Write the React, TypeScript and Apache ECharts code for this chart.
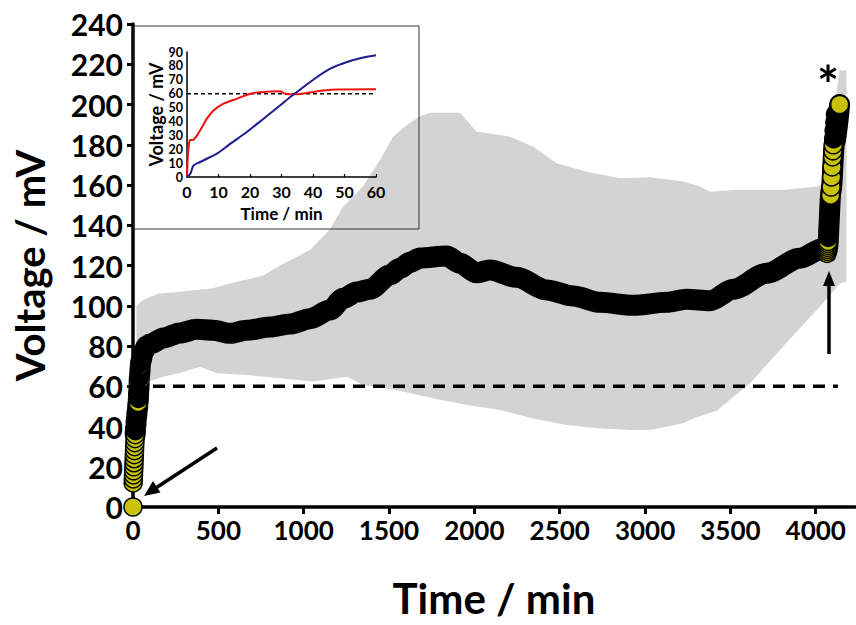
import React, { useEffect, useRef } from 'react';
import * as echarts from 'echarts';

// ---------- main chart data ----------
const xTicks = [0, 500, 1000, 1500, 2000, 2500, 3000, 3500, 4000];

// mean voltage (thick black trace): [time min, voltage mV]
const meanCurve: [number, number][] = [
  [13, 36], [16, 40], [20, 44], [25, 48], [30, 52], [34, 58], [38, 65], [45, 72],
  [60, 77], [80, 80], [100, 81], [178, 84], [275, 86.5], [373, 88.3], [470, 87.8],
  [568, 86.3], [666, 87.8], [803, 89.4], [920, 90.9], [1037, 93.6], [1154, 97.9],
  [1232, 103.7], [1310, 106.8], [1388, 108.2], [1506, 115.3], [1564, 118.6],
  [1623, 121.6], [1681, 123.7], [1838, 124.7], [1916, 121.1], [2013, 116.4],
  [2091, 117.8], [2248, 114.1], [2424, 107.8], [2580, 104.8], [2736, 101.7],
  [2931, 100.2], [3127, 101.7], [3244, 103.2], [3380, 102.5], [3517, 108.2],
  [3712, 116.1], [3907, 123.6], [4044, 128.5], [4068, 128], [4090, 157],
  [4110, 181], [4140, 200],
];

// individual markers at start and end: [time, voltage, visible yellow fill (1) or hidden (0)]
const startPoints: [number, number, number][] = [
  [0, 0, 1],
  [1, 12, 1], [2, 14, 1], [3, 16, 1], [4, 18, 1], [5, 20, 1], [6, 22, 1], [7, 24, 1],
  [8, 26, 1], [9, 28, 1], [10, 30, 1], [11, 32, 1], [12, 34, 1], [13, 36, 1],
  [14, 38, 0], [16, 41, 0], [20, 44, 0], [25, 48, 0], [30, 52, 1], [31, 54, 0], [32, 56, 0],
];
const endPoints: [number, number, number][] = [
  [4066, 126, 1], [4067, 127, 1], [4068, 128, 1], [4069, 129, 1], [4070, 130, 1],
  [4071, 131, 1], [4072, 132, 1], [4073, 134, 0], [4075, 137, 0], [4078, 142, 0],
  [4081, 147, 0], [4084, 152, 0], [4087, 155, 1], [4090, 159, 1], [4093, 164, 1],
  [4096, 169, 1], [4099, 174, 1], [4101, 177, 1], [4103, 180, 1], [4105, 183, 0],
  [4108, 187, 0], [4112, 191, 0], [4116, 195, 0], [4140, 200, 1],
];

// SD band
const sdUpper: [number, number][] = [
  [20, 100], [59, 102.9], [146, 106], [275, 107], [469, 108.7], [568, 111], [762, 115],
  [861, 120], [961, 124.4], [1037, 127.7], [1154, 138], [1230, 149.2], [1347, 159.2],
  [1447, 172.4], [1523, 184], [1605, 189.8], [1675, 193.9], [1740, 195.9], [1916, 195.9],
  [2013, 186.5], [2150, 184.8], [2209, 184], [2345, 179], [2482, 170.8], [2658, 166.6],
  [2853, 163.3], [3029, 163.8], [3224, 161.7], [3322, 159.2], [3380, 156.7], [3515, 157.5],
  [3808, 157.5], [4007, 159.2], [4054, 161], [4140, 217], [4180, 217],
];
const sdLower: [number, number][] = [
  [20, 62], [82, 62], [176, 64.7], [275, 66.6], [393, 69.7], [492, 66.4], [668, 65.6],
  [861, 64], [1054, 62.3], [1254, 64.7], [1347, 60.6], [1547, 58], [1757, 54],
  [1957, 50.7], [2150, 48.2], [2343, 44], [2542, 40.7], [2736, 39], [2929, 38.3],
  [3029, 38.3], [3128, 39.9], [3222, 41.6], [3281, 44], [3421, 48], [3614, 61.4],
  [3808, 79.6], [4007, 98], [4142, 111], [4180, 112],
];

const threshold: [number, number][] = [[0, 60], [4130, 60]];

// ---------- inset data ----------
const insetXTicks = [0, 10, 20, 30, 40, 50, 60];
const insetYTicks = [0, 10, 20, 30, 40, 50, 60, 70, 80, 90];
const insetRed: [number, number][] = [
  [0, 0], [0.85, 26.4], [2.1, 26.9], [3.2, 30], [4.8, 36], [6.3, 42], [8.5, 48],
  [11.6, 52.8], [15.9, 56.4], [20.1, 60], [23.3, 61], [29.6, 61.7], [31.2, 60],
  [33.9, 59.5], [40.2, 61.2], [45.5, 62.9], [60, 63.1],
];
const insetBlue: [number, number][] = [
  [0, 0], [1.06, 2.4], [2.1, 8.4], [4.2, 10.8], [7.4, 14.4], [9.5, 16.8], [13.8, 24],
  [19, 32.4], [24.3, 42], [29.6, 51.6], [32.8, 57.6], [37, 64.8], [41.3, 72], [45.5, 78],
  [50.8, 82.8], [56, 86], [60, 87.6],
];
const insetThreshold: [number, number][] = [[0, 60], [60, 60]];

const YELLOW = '#c9c20c';
const GRAY = '#d3d3d3';
const FONT = 'Lato, "Open Sans", sans-serif';

export default function App() {
  const ref = useRef<HTMLDivElement>(null);

  useEffect(() => {
    if (!ref.current) return;
    const chart = echarts.init(ref.current, undefined, { renderer: 'svg' });

    const markers = [...startPoints, ...endPoints].map(([t, v, f]) => ({
      value: [t, v],
      itemStyle: { color: f ? YELLOW : '#000' },
    }));

    const option: any = {
      animation: false,
      backgroundColor: '#ffffff',
      grid: [
        { left: 133, top: 24, width: 722, height: 483 },
        { left: 187, top: 52, width: 189, height: 125 },
      ],
      xAxis: [
        {
          gridIndex: 0, type: 'value', min: 0, max: 4230, interval: 500,
          axisLine: { lineStyle: { color: '#000', width: 3.5 } },
          axisTick: { length: 7, lineStyle: { color: '#000', width: 3 }, customValues: xTicks },
          axisLabel: {
            customValues: xTicks, margin: 10, formatter: (v: number) => String(v),
            fontFamily: FONT, fontSize: 26, fontWeight: 'bold', color: '#000',
          },
          splitLine: { show: false },
          name: 'Time / min', nameLocation: 'middle', nameGap: 70,
          nameTextStyle: { fontFamily: FONT, fontSize: 42, fontWeight: 'bold', color: '#000' },
        },
        {
          gridIndex: 1, type: 'value', min: 0, max: 60, interval: 10,
          axisLine: { lineStyle: { color: '#000', width: 1.5 } },
          axisTick: { inside: true, length: 3, lineStyle: { color: '#000', width: 1.2 }, customValues: insetXTicks },
          axisLabel: {
            customValues: insetXTicks, margin: 6, fontFamily: FONT, fontSize: 16,
            fontWeight: 'bold', color: '#000',
          },
          splitLine: { show: false },
          name: 'Time / min', nameLocation: 'middle', nameGap: 28,
          nameTextStyle: { fontFamily: FONT, fontSize: 17, fontWeight: 'bold', color: '#000' },
        },
      ],
      yAxis: [
        {
          gridIndex: 0, type: 'value', min: 0, max: 240, interval: 20,
          axisLine: { lineStyle: { color: '#000', width: 3.5 } },
          axisTick: { length: 6, lineStyle: { color: '#000', width: 3 } },
          axisLabel: { margin: 10, fontFamily: FONT, fontSize: 30, fontWeight: 'bold', color: '#000' },
          splitLine: { show: false },
          name: 'Voltage / mV', nameLocation: 'middle', nameGap: 83,
          nameTextStyle: { fontFamily: FONT, fontSize: 40, fontWeight: 'bold', color: '#000' },
        },
        {
          gridIndex: 1, type: 'value', min: 0, max: 90, interval: 10,
          axisLine: { lineStyle: { color: '#000', width: 1.5 } },
          axisTick: { show: false },
          axisLabel: {
            customValues: insetYTicks, margin: 4, fontFamily: FONT, fontSize: 12.5,
            lineHeight: 12, fontWeight: 'bold', color: '#000',
          },
          splitLine: { show: false },
          name: 'Voltage / mV', nameLocation: 'middle', nameGap: 22,
          nameTextStyle: { fontFamily: FONT, fontSize: 18, fontWeight: 'bold', color: '#000' },
        },
      ],
      series: [
        {
          type: 'custom', coordinateSystem: 'cartesian2d', xAxisIndex: 0, yAxisIndex: 0,
          z: -1, silent: true, clip: false,
          data: [[0, 0]],
          renderItem: (_params: any, api: any) => {
            const pts = [
              ...sdUpper.map((p) => api.coord(p)),
              ...sdLower.slice().reverse().map((p) => api.coord(p)),
            ];
            return { type: 'polygon', shape: { points: pts }, style: { fill: GRAY } };
          },
        },
        {
          type: 'line', xAxisIndex: 0, yAxisIndex: 0, data: threshold, symbol: 'none', z: 2,
          lineStyle: { color: '#000', width: 3.5, type: [12, 8] }, silent: true,
        },
        {
          type: 'line', xAxisIndex: 0, yAxisIndex: 0, data: meanCurve, symbol: 'none', z: 3,
          smooth: 0.3, smoothMonotone: 'x', clip: false,
          lineStyle: { color: '#000', width: 21, cap: 'round', join: 'round' }, silent: true,
        },
        {
          type: 'scatter', xAxisIndex: 0, yAxisIndex: 0, data: markers, z: 4, clip: false,
          symbol: 'circle', symbolSize: 18,
          itemStyle: { borderColor: '#000', borderWidth: 1.5, opacity: 1 }, silent: true,
        },
        {
          type: 'line', xAxisIndex: 1, yAxisIndex: 1, data: insetThreshold, symbol: 'none', z: 5,
          lineStyle: { color: '#000', width: 1.5, type: [4, 3] }, silent: true,
        },
        {
          type: 'line', xAxisIndex: 1, yAxisIndex: 1, data: insetRed, symbol: 'none', z: 6,
          smooth: 0.3, lineStyle: { color: '#ee1111', width: 2 }, silent: true,
        },
        {
          type: 'line', xAxisIndex: 1, yAxisIndex: 1, data: insetBlue, symbol: 'none', z: 6,
          smooth: 0.3, lineStyle: { color: '#1c1c8c', width: 2 }, silent: true,
        },
      ],
      graphic: [
        {
          type: 'rect', z: 10, silent: true,
          shape: { x: 134, y: 26, width: 285, height: 203 },
          style: { fill: 'none', stroke: '#333', lineWidth: 1 },
        },
        {
          type: 'line', z: 10, silent: true,
          shape: { x1: 217, y1: 448, x2: 155, y2: 488.5 },
          style: { stroke: '#000', lineWidth: 3.5 },
        },
        {
          type: 'polygon', z: 10, silent: true,
          shape: { points: [[144, 496], [160.5, 492.5], [153, 481]] },
          style: { fill: '#000' },
        },
        {
          type: 'line', z: 10, silent: true,
          shape: { x1: 829, y1: 354, x2: 829, y2: 282 },
          style: { stroke: '#000', lineWidth: 3.5 },
        },
        {
          type: 'polygon', z: 10, silent: true,
          shape: { points: [[829, 271], [835, 286], [823, 286]] },
          style: { fill: '#000' },
        },
        {
          type: 'text', z: 10, silent: true, x: 828, y: 84,
          style: {
            text: '*', fill: '#000', font: `bold 52px ${FONT}`,
            textAlign: 'center', textVerticalAlign: 'middle',
          },
        },
      ],
    };

    chart.setOption(option);
    return () => chart.dispose();
  }, []);

  return (
    <div
      ref={ref}
      style={{ position: 'absolute', left: 0, top: 0, width: 856, height: 625, background: '#fff' }}
    />
  );
}
